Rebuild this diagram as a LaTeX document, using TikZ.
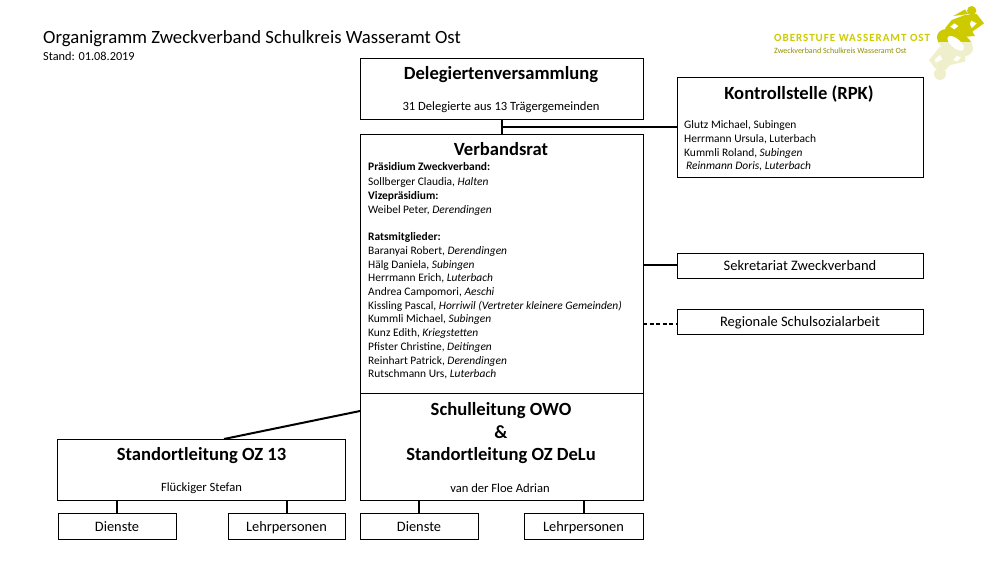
\documentclass[tikz,border=0pt]{standalone}
\usepackage{fontspec}
\setmainfont{Carlito}
\usepackage{tikz}
\usetikzlibrary{positioning}
\definecolor{logoyellow}{HTML}{CDCB00}
\definecolor{logopale}{HTML}{EFEFCB}
\tikzstyle{box}=[rectangle,draw=black,line width=1pt,inner sep=0pt,outer sep=0pt]
\tikzstyle{wbox}=[box,minimum width=283pt]
\tikzstyle{sbox}=[box,minimum width=246pt,minimum height=25pt,text height=10.5pt,text depth=0pt,font=\fontsize{14.5}{16}\selectfont]
\tikzstyle{ubox}=[box,minimum width=118pt,minimum height=26pt,text height=10.5pt,text depth=0pt,font=\fontsize{14.4}{16}\selectfont]
\tikzstyle{head}=[inner sep=0pt,font=\fontsize{18.6}{22.5}\selectfont\bfseries,align=center]
\tikzstyle{small}=[inner sep=0pt,font=\fontsize{11.45}{13.7}\selectfont,align=left]
\tikzstyle{mid}=[inner sep=0pt,font=\fontsize{12.6}{14}\selectfont]
\tikzstyle{link}=[line width=2pt]
\begin{document}
\begin{tikzpicture}
[x=1pt,y=-1pt]
\useasboundingbox (0,0) rectangle (1000,563);
\node[inner sep=0pt,anchor=base west,font=\fontsize{18.7}{20}\selectfont] (title) at (43,43) {Organigramm Zweckverband Schulkreis Wasseramt Ost};
\node[inner sep=0pt,anchor=base west,font=\fontsize{12.3}{13}\selectfont] (stand) at (43,60) {Stand: 01.08.2019};
% logo
\node[inner sep=0pt,anchor=base west,text=logoyellow,font=\fontsize{11}{13}\selectfont\bfseries\addfontfeatures{LetterSpace=9}] (logotext) at (774,41) {OBERSTUFE WASSERAMT OST};
\node[inner sep=0pt,anchor=base west,text=logoyellow!70!black,font=\fontsize{8}{9}\selectfont] (logosub) at (774,53) {Zweckverband Schulkreis Wasseramt Ost};
\begin{scope}[shift={(915,0)},scale=1/3]
\begin{scope}
\clip (0,0) rectangle (225,128);
\fill[logoyellow] (170,32) circle (14);
\fill[logoyellow] (115,48) -- (150,28) -- (160,42) -- cycle;
\fill[logoyellow] (150,45) -- (185,42) -- (207,70) -- (172,95) -- (180,108) -- (130,112) -- (135,95) -- (108,97) -- (90,85) -- (110,60) -- cycle;
\fill[logoyellow,rotate around={-28:(120,128)}] (120,128) ellipse (58 and 35);
\fill[white] (118,70) -- (130,78) -- (118,88) -- (106,80) -- cycle;
\fill[white] (168,62) -- (185,70) -- (170,84) -- (165,72) -- cycle;
\end{scope}
\begin{scope}
\clip (0,128) rectangle (225,255);
\fill[logopale,rotate around={-28:(120,128)}] (120,128) ellipse (58 and 35);
\fill[logopale] (75,140) -- (150,150) -- (150,185) -- (105,195) -- (90,212) -- (60,205) -- (42,180) -- cycle;
\fill[logopale] (75,222) circle (18);
\fill[white] (75,165) -- (82,178) -- (62,188) -- (60,178) -- cycle;
\fill[white] (125,168) -- (138,172) -- (125,185) -- (115,180) -- cycle;
\end{scope}
\fill[white,rotate around={-40:(122,130)}] (122,130) ellipse (30 and 14);
\end{scope}
% boxes
\node[wbox,minimum height=61pt,anchor=north west] (delegierte) at (360,58) {};
\node[box,minimum width=246pt,minimum height=100pt,anchor=north west] (kontrolle) at (677,77) {};
\node[wbox,minimum height=259pt,anchor=north west] (rat) at (360,134) {};
\node[wbox,minimum height=107pt,below=0pt of rat] (leitung) {};
\node[box,minimum width=288pt,minimum height=61pt,anchor=north west] (oz13) at (57,439) {};
\node[sbox,anchor=north west] (sekretariat) at (677,253) {Sekretariat Zweckverband};
\node[sbox,anchor=north west] (sozial) at (677,309) {Regionale Schulsozialarbeit};
\node[ubox,anchor=north west] (dienstea) at (58,513) {Dienste};
\node[ubox,anchor=north west,minimum width=117pt] (lehra) at (228,513) {Lehrpersonen};
\node[ubox,anchor=north west] (diensteb) at (360,513) {Dienste};
\node[ubox,anchor=north west,minimum width=119pt] (lehrb) at (524,513) {Lehrpersonen};
% texts
\node[head] (delegiertehead) at (501,75) {Delegiertenversammlung};
\node[mid] (delegiertetext) at (501,107) {31 Delegierte aus 13 Trägergemeinden};
\node[head] (kontrollehead) at (799,94) {Kontrollstelle (RPK)};
\node[small,anchor=north west] (kontrolletext) at (684,120.5) {Glutz Michael, Subingen\\Herrmann Ursula, Luterbach\\Kummli Roland, \textit{Subingen}\\\textit{\,Reinmann Doris, Luterbach}};
\node[head] (rathead) at (501,149) {Verbandsrat};
\node[small,anchor=north west] (rattext) at (368,162) {\textbf{Präsidium Zweckverband:}\\[2pt]
Sollberger Claudia, \textit{Halten}\\
\textbf{Vizepräsidium:}\\
Weibel Peter, \textit{Derendingen}\\[13.7pt]
\textbf{Ratsmitglieder:}\\
Baranyai Robert, \textit{Derendingen}\\
Hälg Daniela, \textit{Subingen}\\
Herrmann Erich, \textit{Luterbach}\\
Andrea Campomori, \textit{Aeschi}\\
Kissling Pascal, \textit{Horriwil (Vertreter kleinere Gemeinden)}\\
Kummli Michael, \textit{Subingen}\\
Kunz Edith, \textit{Kriegstetten}\\
Pfister Christine, \textit{Deitingen}\\
Reinhart Patrick, \textit{Derendingen}\\
Rutschmann Urs, \textit{Luterbach}};
\node[head] (leitunghead) at (501,433.5) {Schulleitung OWO\\\&\\Standortleitung OZ DeLu};
\node[mid] (leitungtext) at (500,488) {van der Floe Adrian};
\node[head] (oz13head) at (201.5,456) {Standortleitung OZ 13};
\node[mid] (oz13text) at (201.5,488) {Flückiger Stefan};
% links
\coordinate (ratin) at (501,127);
\coordinate (ratsek) at (643,265);
\coordinate (ratsoz) at (643,324);
\coordinate (ratleft) at (360,411);
\coordinate (oztop) at (224,439);
\draw[link] (delegierte.south) -- (rat.north);
\draw[link] (ratin) -- (ratin -| kontrolle.west);
\draw[link] (ratsek) -- (ratsek -| sekretariat.west);
\draw[link,dash pattern=on 4pt off 2.5pt] (ratsoz) -- (ratsoz -| sozial.west);
\draw[link] (ratleft) -- (oztop);
\draw[link] (dienstea.north |- oz13.south) -- (dienstea.north);
\draw[link] (lehra.north |- oz13.south) -- (lehra.north);
\draw[link] (diensteb.north |- leitung.south) -- (diensteb.north);
\draw[link] (lehrb.north |- leitung.south) -- (lehrb.north);
\end{tikzpicture}
\end{document}
